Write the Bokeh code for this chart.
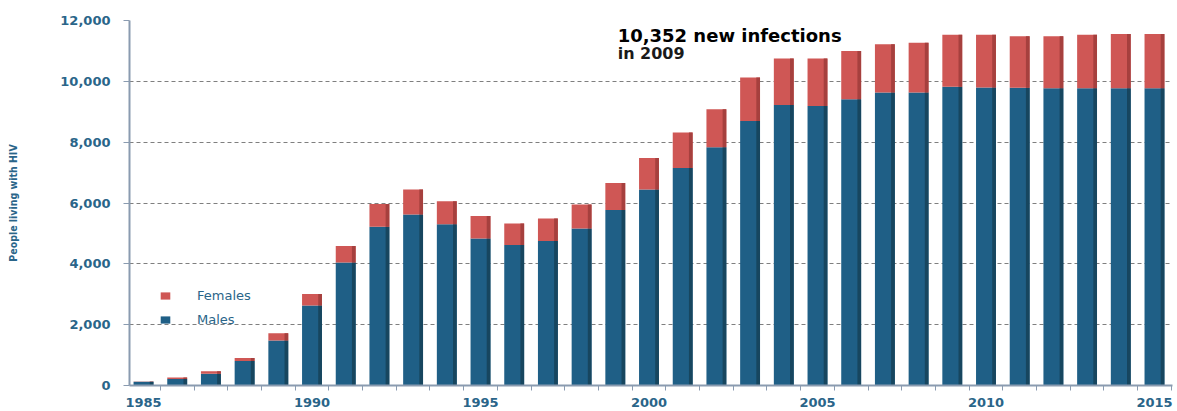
from bokeh.plotting import figure
from bokeh.models import (ColumnDataSource, FixedTicker, Legend, LegendItem, Label,
                          Range1d, NumeralTickFormatter)
from bokeh.transform import dodge
from bokeh.embed import file_html
from bokeh.resources import INLINE

years = list(range(1985, 2016))
males = [120, 210, 390, 805, 1480, 2630, 4040, 5220, 5625, 5300, 4830, 4620, 4750, 5160,
         5770, 6440, 7150, 7830, 8700, 9220, 9190, 9410, 9630, 9630, 9820, 9800, 9790,
         9770, 9770, 9770, 9770]
totals = [130, 260, 470, 905, 1720, 3010, 4590, 5970, 6440, 6060, 5570, 5330, 5490, 5950,
          6660, 7480, 8320, 9080, 10130, 10750, 10750, 11000, 11220, 11270, 11530, 11530,
          11480, 11480, 11530, 11560, 11560]
females = [t - m for t, m in zip(totals, males)]
y_ticks = [0, 2000, 4000, 6000, 8000, 10000, 12000]
x_label_years = [1985, 1990, 1995, 2000, 2005, 2010, 2015]

MALE = "#1f5f86"
MALE_DARK = "#17465f"
FEMALE = "#cf5755"
FEMALE_DARK = "#a6403e"
TEAL = "#2a6589"
AXIS = "#8a9bb0"

src = ColumnDataSource(dict(year=years, males=males, females=females, totals=totals,
                            zero=[0] * len(years)))

p = figure(width=1175, height=409, output_backend="svg", toolbar_location=None,
           x_range=Range1d(1984.5846, 2015.535), y_range=Range1d(0, 12000),
           min_border_left=129, min_border_right=3, min_border_top=20, min_border_bottom=20)
p.outline_line_color = None
p.background_fill_color = "white"
p.border_fill_color = "white"

BW = 0.59
r = p.vbar_stack(["males", "females"], x="year", width=BW, color=[MALE, FEMALE],
                 line_color=None, source=src)
# darker right-hand shading strips (cylinder look)
xs = dodge("year", BW / 2 - 0.055, range=p.x_range)
p.vbar(x=xs, bottom="zero", top="males", width=0.11, color=MALE_DARK, line_color=None,
       source=src)
p.vbar(x=xs, bottom="males", top="totals", width=0.11, color=FEMALE_DARK, line_color=None,
       source=src)

# axes
p.xgrid.grid_line_color = None
p.ygrid.grid_line_color = "#7f7f7f"
p.ygrid.grid_line_dash = "4 3"
p.ygrid.grid_line_width = 1.2
p.yaxis.ticker = FixedTicker(ticks=y_ticks)
p.yaxis.formatter = NumeralTickFormatter(format="0,0")
p.yaxis.axis_line_color = AXIS
p.yaxis.axis_line_width = 2
p.yaxis.major_tick_line_color = AXIS
p.yaxis.major_tick_out = 6
p.yaxis.major_tick_in = 0
p.yaxis.minor_tick_line_color = None
p.yaxis.major_label_standoff = 13
p.yaxis.major_label_text_font = "DejaVu Sans"
p.yaxis.major_label_text_font_style = "bold"
p.yaxis.major_label_text_font_size = "13px"
p.yaxis.major_label_text_color = TEAL
p.yaxis.axis_label = "People living with HIV"
p.yaxis.axis_label_text_font = "DejaVu Sans Condensed"
p.yaxis.axis_label_text_font_style = "bold"
p.yaxis.axis_label_text_font_size = "10.5px"
p.yaxis.axis_label_text_color = TEAL
p.yaxis.axis_label_standoff = 38

p.xaxis.ticker = FixedTicker(ticks=x_label_years,
                             minor_ticks=[y + 0.5 for y in range(1984, 2016)])
p.xaxis.axis_line_color = AXIS
p.xaxis.axis_line_width = 2
p.xaxis.major_tick_line_color = None
p.xaxis.major_tick_out = 5
p.xaxis.minor_tick_line_color = AXIS
p.xaxis.minor_tick_out = 5
p.xaxis.minor_tick_in = 0
p.xaxis.major_label_standoff = 7
p.xaxis.major_label_text_font = "DejaVu Sans"
p.xaxis.major_label_text_font_style = "bold"
p.xaxis.major_label_text_font_size = "13px"
p.xaxis.major_label_text_color = TEAL

legend = Legend(items=[LegendItem(label="Females", renderers=[r[1]]),
                       LegendItem(label="Males", renderers=[r[0]])],
                location=(30, 58), background_fill_alpha=0, border_line_color=None,
                glyph_width=12, glyph_height=9, label_standoff=26, spacing=9,
                label_text_font="DejaVu Sans", label_text_font_size="13px",
                label_text_color=TEAL)
p.add_layout(legend, "center")

p.add_layout(Label(x=1999.07, y=11850, text="10,352 new infections",
                   text_font="DejaVu Sans", text_font_style="bold", text_font_size="18px",
                   text_color="black", text_baseline="top"))
p.add_layout(Label(x=1999.07, y=11230, text="in 2009",
                   text_font="DejaVu Sans", text_font_style="bold", text_font_size="16px",
                   text_color="#1a1a1a", text_baseline="top"))

open("out.html", "w").write(file_html(p, INLINE))
